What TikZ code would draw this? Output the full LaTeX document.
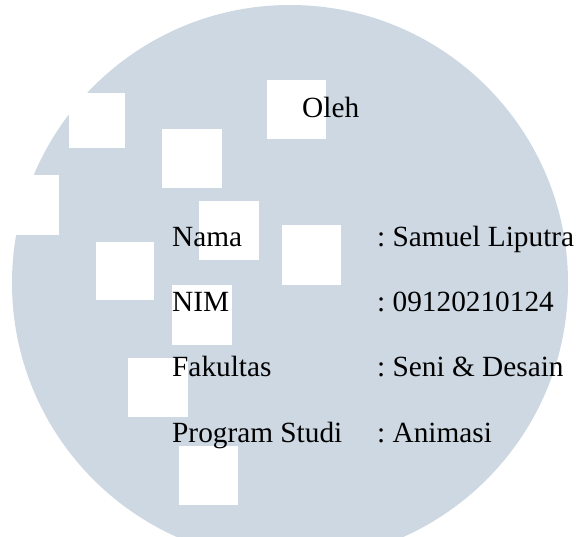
\documentclass[tikz,border=0pt]{standalone}
\usepackage{fontspec}
\setmainfont{Liberation Serif}
\definecolor{disc}{HTML}{CDD8E2}
\tikzset{
  sq/.style={fill=white, draw=none},
  lbl/.style={anchor=base west, inner sep=0pt, text=black, font=\fontsize{29.3}{35}\selectfont\frenchspacing}
}
\begin{document}
\begin{tikzpicture}[x=1pt,y=-1pt]
\useasboundingbox (0,0) rectangle (580,536);
\begin{scope}
\clip (0,0) rectangle (580,536);
\fill[disc] (290,283) circle (278);
% white squares
\fill[sq] (-2,175) rectangle (59,235);
\fill[sq] (69,93) rectangle (125,148);
\fill[sq] (162,129) rectangle (222,188);
\fill[sq] (267,80) rectangle (326,139);
\fill[sq] (199,201) rectangle (259,260);
\fill[sq] (282,225) rectangle (341,285);
\fill[sq] (96,242) rectangle (154,300);
\fill[sq] (172,285) rectangle (232,345);
\fill[sq] (128,358) rectangle (188,417);
\fill[sq] (179,446) rectangle (238,505);
\end{scope}
\node[lbl] (oleh) at (302,117) {Oleh};
\node[lbl] (nama) at (172,246) {Nama};
\node[lbl] (nim) at (172,311) {NIM};
\node[lbl] (fak) at (172,376) {Fakultas};
\node[lbl] (prodi) at (172,442) {Program Studi};
\node[lbl] (vnama) at (377,246) {: Samuel Liputra};
\node[lbl] (vnim) at (377,311) {: 09120210124};
\node[lbl] (vfak) at (377,376) {: Seni \& Desain};
\node[lbl] (vprodi) at (377,442) {: Animasi};
\end{tikzpicture}
\end{document}
